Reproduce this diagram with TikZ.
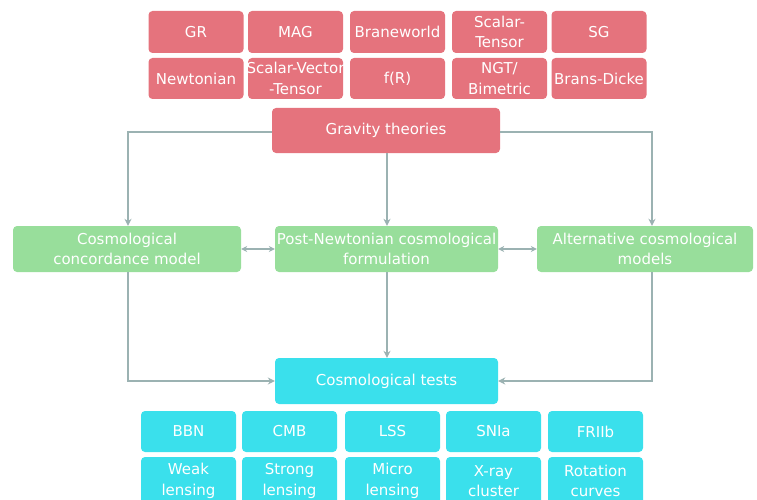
\documentclass[tikz,border=0pt]{standalone}
\usepackage{fontspec}
\setmainfont{DejaVu Sans}
\usetikzlibrary{arrows.meta}
\definecolor{gred}{RGB}{229,115,125}
\definecolor{ggreen}{RGB}{152,222,155}
\definecolor{gcyan}{RGB}{58,224,236}
\definecolor{lineg}{RGB}{155,178,178}
\begin{document}
\begin{tikzpicture}[x=1pt,y=-1pt,
  box/.style={rounded corners=4pt, inner sep=0pt, text=white, align=center,
    font=\fontsize{15}{20.5}\selectfont},
  redbox/.style={box, fill=gred, minimum width=95pt, minimum height=42pt},
  bigred/.style={box, fill=gred, minimum width=228pt, minimum height=45pt},
  greenbox/.style={box, fill=ggreen, minimum height=46pt},
  cyanbox/.style={box, fill=gcyan, minimum width=95pt, minimum height=41pt},
  conn/.style={draw=lineg, line width=1.8pt, -{Stealth[length=7pt,width=7pt]}},
  dconn/.style={draw=lineg, line width=1.5pt, {Stealth[length=6pt,width=6pt]}-{Stealth[length=6pt,width=6pt]}}
]
\useasboundingbox (0,0) rectangle (757,500);
\clip (0,0) rectangle (757,500);
% top rows
\node[redbox] (gr) at (196,32) {GR};
\node[redbox] (mag) at (295.5,32) {MAG};
\node[redbox] (brane) at (397.5,32) {Braneworld};
\node[redbox] (st) at (499.5,32) {Scalar-\\Tensor};
\node[redbox] (sg) at (599,32) {SG};
\node[redbox, minimum height=41pt] (newt) at (196,78.5) {Newtonian};
\node[redbox, minimum height=41pt] (svt) at (295.5,78.5) {\makebox[95pt][c]{Scalar-Vector}\\-Tensor};
\node[redbox, minimum height=41pt] (fr) at (397.5,78.5) {f(R)};
\node[redbox, minimum height=41pt] (ngt) at (499.5,78.5) {NGT/\\Bimetric};
\node[redbox, minimum height=41pt] (bd) at (599,78.5) {Brans-Dicke};
% gravity theories
\node[bigred] (grav) at (386,130.5) {Gravity theories};
% green row
\node[greenbox, minimum width=228pt] (conc) at (127,249) {Cosmological\\concordance model};
\node[greenbox, minimum width=223pt] (post) at (386.5,249) {Post-Newtonian cosmological\\formulation};
\node[greenbox, minimum width=216pt] (alt) at (645,249) {Alternative cosmological\\models};
% tests
\node[box, fill=gcyan, minimum width=223pt, minimum height=46pt] (tests) at (386.5,381) {Cosmological tests};
\node[cyanbox] (bbn) at (188.5,431.5) {BBN};
\node[cyanbox] (cmb) at (289.5,431.5) {CMB};
\node[cyanbox] (lss) at (392.5,431.5) {LSS};
\node[cyanbox] (snia) at (493.5,431.5) {SNIa};
\node[cyanbox] (frii) at (595.5,431.5) {FRIIb};
\node[cyanbox, minimum height=48pt] (weak) at (188.5,481) {Weak\\lensing};
\node[cyanbox, minimum height=48pt] (strong) at (289.5,481) {Strong\\lensing};
\node[cyanbox, minimum height=48pt] (micro) at (392.5,481) {Micro\\lensing};
\node[cyanbox, minimum height=48pt] (xray) at (493.5,481) {X-ray\\cluster};
\node[cyanbox, minimum height=48pt] (rot) at (595.5,481) {Rotation\\curves};
% connectors
\coordinate (altin) at ([xshift=7pt]alt.north);
\coordinate (altout) at ([xshift=7pt]alt.south);
\draw[conn] ([yshift=-1.5pt]grav.west) -| ([xshift=1pt]conc.north);
\draw[conn] ([yshift=-1.5pt]grav.east) -| (altin);
\draw[conn] ([xshift=1pt]grav.south) -- ([xshift=0.5pt]post.north);
\draw[dconn] (conc.east) -- (post.west);
\draw[dconn] (post.east) -- (alt.west);
\draw[conn] ([xshift=1pt]conc.south) |- (tests.west);
\draw[conn] ([xshift=0.5pt]post.south) -- ([xshift=0.5pt]tests.north);
\draw[conn] (altout) |- (tests.east);
\end{tikzpicture}
\end{document}
